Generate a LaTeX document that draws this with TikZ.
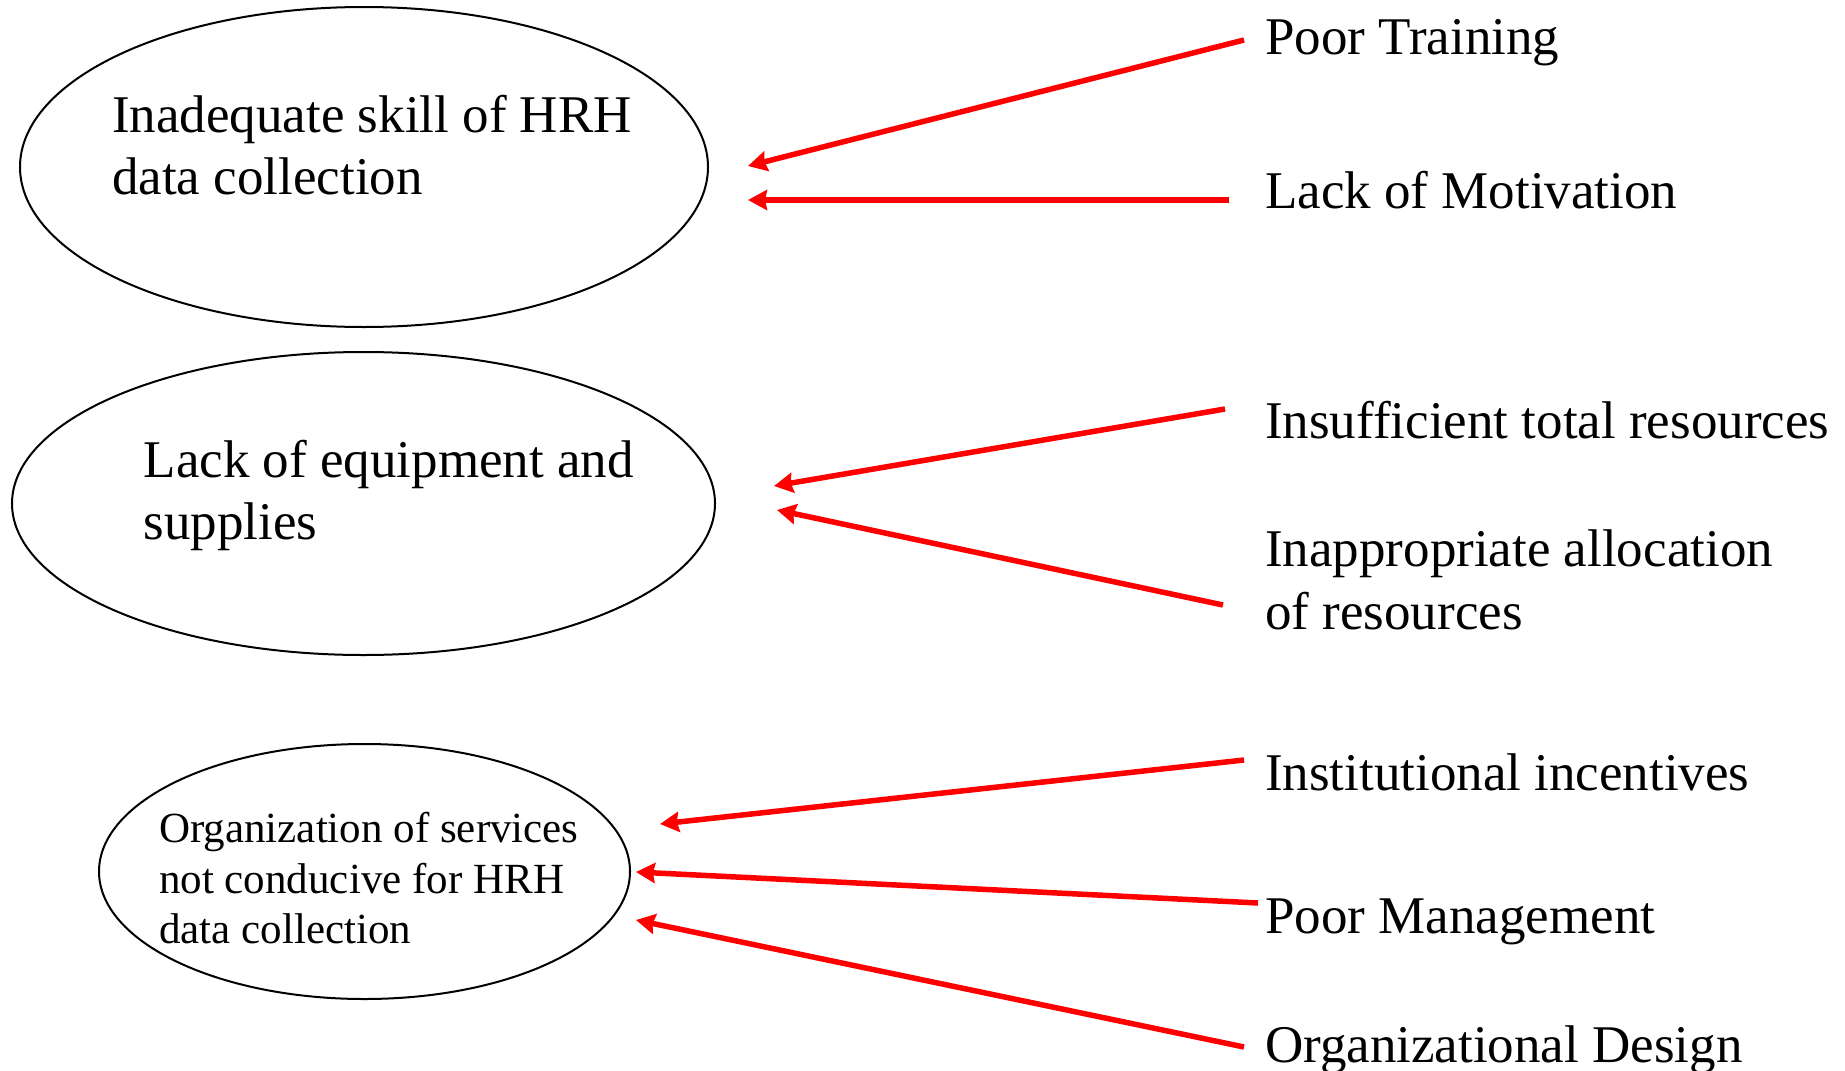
\documentclass[tikz,border=0pt]{standalone}
\usepackage{fontspec}
\setmainfont{Liberation Serif}
\usetikzlibrary{shapes.geometric,arrows.meta}
\begin{document}
\begin{tikzpicture}[x=1pt,y=-1pt,
  oval/.style={draw=black, line width=2pt, ellipse, inner sep=0pt},
  big/.style={anchor=base west, inner sep=0pt, font=\fontsize{53}{62}\selectfont},
  small/.style={anchor=base west, inner sep=0pt, font=\fontsize{43}{51}\selectfont},
  cause/.style={draw=red, line width=5.5pt, -{Stealth[length=19pt,width=20pt,inset=2pt]}}]
\useasboundingbox (0,0) rectangle (1845,1071);
% ellipses
\node[oval, minimum width=688pt, minimum height=320pt] (E1) at (364,167) {};
\node[oval, minimum width=703pt, minimum height=303pt] (E2) at (363.5,503.5) {};
\node[oval, minimum width=531pt, minimum height=255pt] (E3) at (364.5,871.5) {};
% ellipse texts
\node[big] (t1a) at (112,132) {Inadequate skill of HRH};
\node[big] (t1b) at (112,194) {data collection};
\node[big] (t2a) at (143.5,477) {Lack of equipment and};
\node[big] (t2b) at (143.5,539) {supplies};
\node[small] (t3a) at (159,842.5) {Organization of services};
\node[small] (t3b) at (159,893) {not conducive for HRH};
\node[small] (t3c) at (159,943.5) {data collection};
% causes
\node[big] (c1) at (1265,54) {Poor Training};
\node[big] (c2) at (1265,208) {Lack of Motivation};
\node[big] (c3) at (1265,438) {Insufficient total resources};
\node[big] (c4a) at (1265,566) {Inappropriate allocation};
\node[big] (c4b) at (1265,629) {of resources};
\node[big] (c5) at (1265,790) {Institutional incentives};
\node[big] (c6) at (1265,933) {Poor Management};
\node[big] (c7) at (1265,1062) {Organizational Design};
% arrow end points
\coordinate (s1) at (1244,40);   \coordinate (h1) at (748,166);
\coordinate (s2) at (1229,200);  \coordinate (h2) at (748,200);
\coordinate (s3) at (1225,409);  \coordinate (h3) at (774,486);
\coordinate (s4) at (1223,605);  \coordinate (h4) at (777,510);
\coordinate (s5) at (1244,760);  \coordinate (h5) at (660,824);
\coordinate (s6) at (1258,903);  \coordinate (h6) at (636,872);
\coordinate (s7) at (1244,1047); \coordinate (h7) at (636,920);
\draw[cause] (s1) -- (h1);
\draw[cause] (s2) -- (h2);
\draw[cause] (s3) -- (h3);
\draw[cause] (s4) -- (h4);
\draw[cause] (s5) -- (h5);
\draw[cause] (s6) -- (h6);
\draw[cause] (s7) -- (h7);
\end{tikzpicture}
\end{document}
